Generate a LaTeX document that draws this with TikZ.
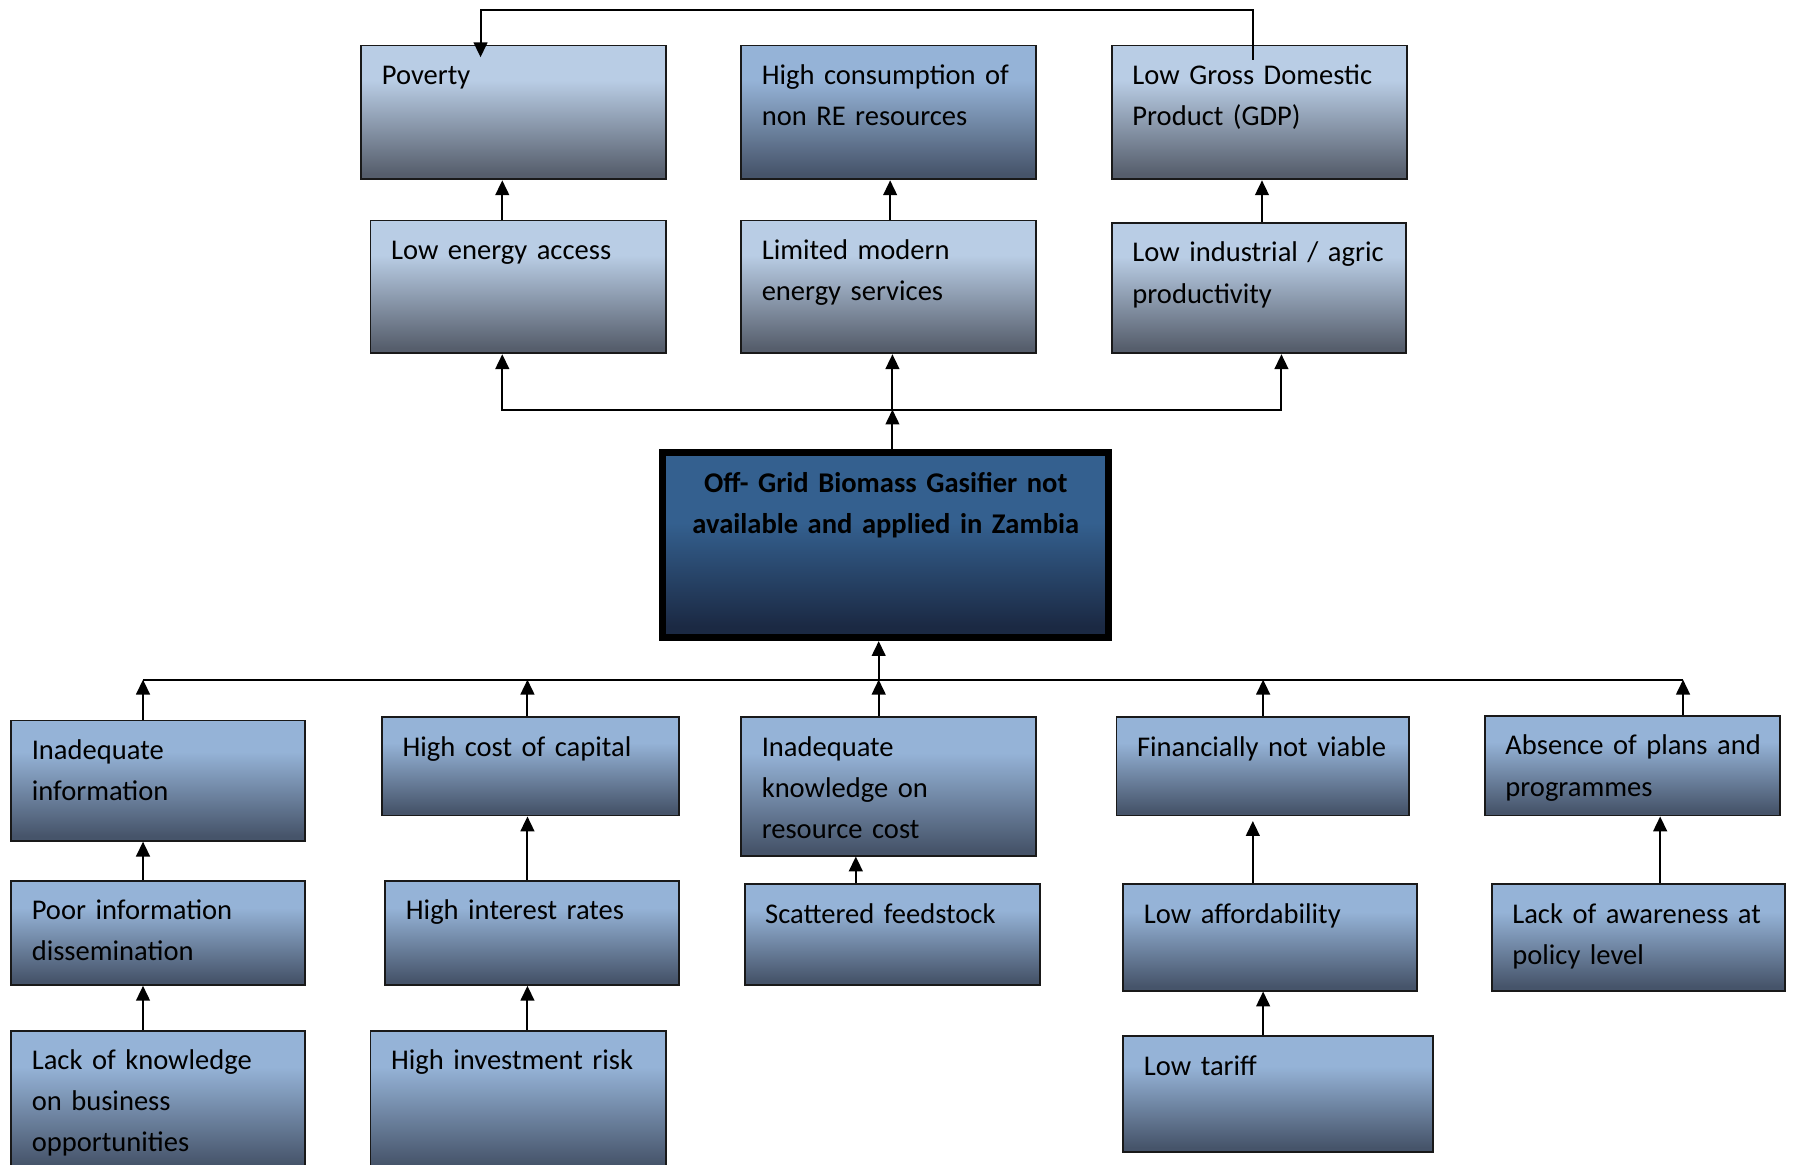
\documentclass[tikz,border=0pt]{standalone}
\usepackage{fontspec}
\setmainfont{Carlito}
\usepackage{tikz}
\usetikzlibrary{arrows.meta}

\definecolor{lighttop}{HTML}{B9CDE5}
\definecolor{lightbot}{HTML}{565E6C}
\definecolor{bluetop}{HTML}{95B3D7}
\definecolor{bluebot}{HTML}{46546A}
\definecolor{coretop}{HTML}{34608F}
\definecolor{corebot}{HTML}{1B2943}

% box fills: light part at the top, dark at the bottom
\pgfdeclareverticalshading{lightfill}{100bp}{color(0bp)=(lightbot); color(27bp)=(lightbot); color(62bp)=(lighttop); color(100bp)=(lighttop)}
\pgfdeclareverticalshading{bluefill}{100bp}{color(0bp)=(bluebot); color(27bp)=(bluebot); color(62bp)=(bluetop); color(100bp)=(bluetop)}
\pgfdeclareverticalshading{corefill}{100bp}{color(0bp)=(corebot); color(28bp)=(corebot); color(56bp)=(coretop); color(100bp)=(coretop)}

\begin{document}
\begin{tikzpicture}[
    font=\fontsize{7.1}{10.25}\selectfont,
    card/.style={draw=black!90, line width=0.45pt, anchor=north west,
      inner xsep=0.18cm, inner ysep=0pt, text height=0.34cm, align=left},
    effect/.style 2 args={card, shading=lightfill, text width=#1, text depth=#2},
    cause/.style 2 args={card, shading=bluefill, text width=#1, text depth=#2},
    core/.style={draw=black, line width=1.8pt, anchor=north west, shading=corefill,
      inner xsep=0.18cm, inner ysep=0pt, text width=3.54cm, text height=0.35cm,
      text depth=1.27cm, align=center, font=\fontsize{7.1}{10.25}\selectfont\bfseries},
    link/.style={line width=0.5pt},
    uparr/.style={link, -{Triangle[length=1.3mm,width=1.2mm]}}
  ]
  \useasboundingbox (0,0) rectangle (15.68,-10.18);

  % Effects
  \node[effect={2.30cm}{0.83cm}] (pov) at (3.15,-0.39) {Poverty};
  \node[cause={2.22cm}{0.83cm}] (hicons) at (6.47,-0.39) {High~consumption~of\\non RE resources};
  \node[effect={2.22cm}{0.83cm}] (gdp) at (9.71,-0.39) {Low Gross Domestic\\Product (GDP)};
  \node[effect={2.22cm}{0.82cm}] (lowacc) at (3.23,-1.92) {Low energy access};
  \node[effect={2.22cm}{0.82cm}] (modern) at (6.47,-1.92) {Limited modern\\energy services};
  \node[effect={2.21cm}{0.80cm}] (lowind) at (9.71,-1.94) {Low~industrial~/~agric\\productivity};

  % Core problem
  \node[core] (core) at (5.76,-3.92) {Off- Grid Biomass Gasifier not\\available and applied in Zambia};

  % Causes
  \node[cause={2.21cm}{0.71cm}] (inadinfo) at (0.09,-6.29) {Inadequate\\information};
  \node[cause={2.24cm}{0.52cm}] (hicap) at (3.33,-6.26) {High cost of capital};
  \node[cause={2.22cm}{0.87cm}] (inadknow) at (6.47,-6.26) {Inadequate\\knowledge on\\resource cost};
  \node[cause={2.20cm}{0.52cm}] (finance) at (9.75,-6.26) {Financially~not~viable};
  \node[cause={2.22cm}{0.53cm}] (plans) at (12.97,-6.25) {Absence~of~plans~and\\programmes};

  \node[cause={2.21cm}{0.57cm}] (poorinfo) at (0.09,-7.69) {Poor information\\dissemination};
  \node[cause={2.21cm}{0.57cm}] (interest) at (3.36,-7.69) {High interest rates};
  \node[cause={2.22cm}{0.54cm}] (feedstock) at (6.50,-7.72) {Scattered feedstock};
  \node[cause={2.21cm}{0.59cm}] (afford) at (9.81,-7.72) {Low affordability};
  \node[cause={2.20cm}{0.59cm}] (aware) at (13.03,-7.72) {Lack~of~awareness~at\\policy level};

  \node[cause={2.21cm}{0.88cm}] (business) at (0.09,-9.00) {Lack of knowledge\\on business\\opportunities};
  \node[cause={2.22cm}{0.88cm}] (risk) at (3.23,-9.00) {High investment risk};
  \node[cause={2.35cm}{0.67cm}] (tariff) at (9.81,-9.05) {Low tariff};

  % Upper tree
  \coordinate (upbus) at (7.80,-3.58);
  \coordinate (loop) at (4.20,-0.09);
  \draw[uparr] (7.80,0 |- core.north) -- (upbus);
  \draw[uparr] (upbus) -- (7.80,0 |- modern.south);
  \draw[uparr] (upbus) -| (4.39,0 |- lowacc.south);
  \draw[uparr] (upbus) -| (11.20,0 |- lowind.south);
  \draw[uparr] (4.39,0 |- lowacc.north) -- (4.39,0 |- pov.south);
  \draw[uparr] (7.78,0 |- modern.north) -- (7.78,0 |- hicons.south);
  \draw[uparr] (11.03,0 |- lowind.north) -- (11.03,0 |- gdp.south);
  \draw[uparr, shorten <=-0.13cm, shorten >=-0.11cm] (10.95,0 |- gdp.north) |- (loop) -- (4.20,0 |- pov.north);

  % Lower tree
  \coordinate (lowbus) at (7.68,-5.94);
  \draw[uparr] (lowbus) -- (7.68,0 |- core.south);
  \draw[link] (1.25,0 |- lowbus) -- (14.71,0 |- lowbus);
  \foreach \n/\x in {inadinfo/1.25, hicap/4.61, inadknow/7.68, finance/11.04, plans/14.71}
    \draw[uparr] (\x,0 |- \n.north) -- (\x,0 |- lowbus);

  \draw[uparr] (1.25,0 |- poorinfo.north) -- (1.25,0 |- inadinfo.south);
  \draw[uparr] (4.61,0 |- interest.north) -- (4.61,0 |- hicap.south);
  \draw[uparr] (7.48,0 |- feedstock.north) -- (7.48,0 |- inadknow.south);
  \draw[uparr, shorten >=0.04cm] (10.95,0 |- afford.north) -- (10.95,0 |- finance.south);
  \draw[uparr] (14.51,0 |- aware.north) -- (14.51,0 |- plans.south);
  \draw[uparr] (1.25,0 |- business.north) -- (1.25,0 |- poorinfo.south);
  \draw[uparr] (4.61,0 |- risk.north) -- (4.61,0 |- interest.south);
  \draw[uparr] (11.04,0 |- tariff.north) -- (11.04,0 |- afford.south);
\end{tikzpicture}
\end{document}
